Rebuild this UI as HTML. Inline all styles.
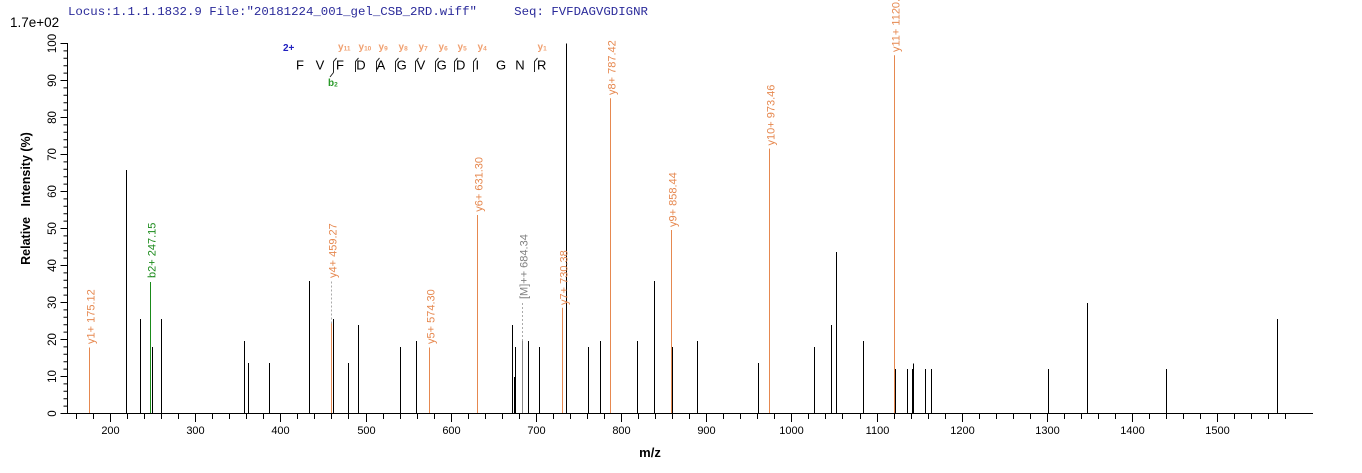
<!DOCTYPE html>
<html>
<head>
<meta charset="utf-8">
<style>
html,body{margin:0;padding:0;background:#fff;}
svg{display:block;}
text{font-family:"Liberation Sans",Arial,sans-serif;}
</style>
</head>
<body>
<svg width="1362" height="473" viewBox="0 0 1362 473" xmlns="http://www.w3.org/2000/svg">
<rect x="0" y="0" width="1362" height="473" fill="#fff"/>

<!-- header -->
<text x="68" y="15" font-size="12.4" fill="#2a2a9a" style="font-family:'Liberation Mono',monospace;white-space:pre" xml:space="preserve">Locus:1.1.1.1832.9 File:"20181224_001_gel_CSB_2RD.wiff"     Seq: FVFDAGVGDIGNR</text>
<text x="10" y="27" font-size="13.5" fill="#000">1.7e+02</text>

<!-- axes -->
<g stroke="#000" stroke-width="1" fill="none">
<line x1="67.5" y1="43" x2="67.5" y2="414"/>
<line x1="67" y1="413.5" x2="1313" y2="413.5"/>
<path d="M60.5 413.5H67.5M60.5 376.5H67.5M60.5 339.5H67.5M60.5 302.5H67.5M60.5 265.5H67.5M60.5 228.5H67.5M60.5 191.5H67.5M60.5 154.5H67.5M60.5 117.5H67.5M60.5 80.5H67.5M60.5 43.5H67.5"/>
<path d="M63.5 406.1H67.5M63.5 398.7H67.5M63.5 391.3H67.5M63.5 383.9H67.5
M63.5 369.1H67.5M63.5 361.7H67.5M63.5 354.3H67.5M63.5 346.9H67.5
M63.5 332.1H67.5M63.5 324.7H67.5M63.5 317.3H67.5M63.5 309.9H67.5
M63.5 295.1H67.5M63.5 287.7H67.5M63.5 280.3H67.5M63.5 272.9H67.5
M63.5 258.1H67.5M63.5 250.7H67.5M63.5 243.3H67.5M63.5 235.9H67.5
M63.5 221.1H67.5M63.5 213.7H67.5M63.5 206.3H67.5M63.5 198.9H67.5
M63.5 184.1H67.5M63.5 176.7H67.5M63.5 169.3H67.5M63.5 161.9H67.5
M63.5 147.1H67.5M63.5 139.7H67.5M63.5 132.3H67.5M63.5 124.9H67.5
M63.5 110.1H67.5M63.5 102.7H67.5M63.5 95.3H67.5M63.5 87.9H67.5
M63.5 73.1H67.5M63.5 65.7H67.5M63.5 58.3H67.5M63.5 50.9H67.5"/>
<path d="M76.5 413V419M93.5 413V419M127.5 413V419M144.5 413V419M161.5 413V419M178.5 413V419M212.5 413V419M229.5 413V419M246.5 413V419M263.5 413V419M297.5 413V419M314.5 413V419M331.5 413V419M348.5 413V419M383.5 413V419M400.5 413V419M417.5 413V419M434.5 413V419M468.5 413V419M485.5 413V419M502.5 413V419M519.5 413V419M553.5 413V419M570.5 413V419M587.5 413V419M604.5 413V419M638.5 413V419M655.5 413V419M672.5 413V419M689.5 413V419M723.5 413V419M740.5 413V419M757.5 413V419M774.5 413V419M808.5 413V419M825.5 413V419M842.5 413V419M860.5 413V419M894.5 413V419M911.5 413V419M928.5 413V419M945.5 413V419M979.5 413V419M996.5 413V419M1013.5 413V419M1030.5 413V419M1064.5 413V419M1081.5 413V419M1098.5 413V419M1115.5 413V419M1149.5 413V419M1166.5 413V419M1183.5 413V419M1200.5 413V419M1234.5 413V419M1251.5 413V419M1268.5 413V419M1285.5 413V419"/>
<path d="M110.5 413V422M195.5 413V422M280.5 413V422M366.5 413V422M451.5 413V422M536.5 413V422M621.5 413V422M706.5 413V422M791.5 413V422M877.5 413V422M962.5 413V422M1047.5 413V422M1132.5 413V422M1217.5 413V422"/>
</g>

<!-- y labels -->
<g font-size="11.5" fill="#000" text-anchor="middle">
<text transform="translate(56,413.5) rotate(-90)">0</text>
<text transform="translate(56,376.5) rotate(-90)">10</text>
<text transform="translate(56,339.5) rotate(-90)">20</text>
<text transform="translate(56,302.5) rotate(-90)">30</text>
<text transform="translate(56,265.5) rotate(-90)">40</text>
<text transform="translate(56,228.5) rotate(-90)">50</text>
<text transform="translate(56,191.5) rotate(-90)">60</text>
<text transform="translate(56,154.5) rotate(-90)">70</text>
<text transform="translate(56,117.5) rotate(-90)">80</text>
<text transform="translate(56,80.5) rotate(-90)">90</text>
<text transform="translate(56,43.5) rotate(-90)">100</text>
</g>

<!-- x labels -->
<g font-size="11" fill="#000" text-anchor="middle">
<text x="110.5" y="434">200</text>
<text x="195.5" y="434">300</text>
<text x="280.5" y="434">400</text>
<text x="366.5" y="434">500</text>
<text x="451.5" y="434">600</text>
<text x="536.5" y="434">700</text>
<text x="621.5" y="434">800</text>
<text x="706.5" y="434">900</text>
<text x="791.5" y="434">1000</text>
<text x="877.5" y="434">1100</text>
<text x="962.5" y="434">1200</text>
<text x="1047.5" y="434">1300</text>
<text x="1132.5" y="434">1400</text>
<text x="1217.5" y="434">1500</text>
</g>

<!-- axis titles -->
<text x="650" y="457" font-size="13" font-weight="bold" text-anchor="middle" fill="#000">m/z</text>
<text transform="translate(30,198.5) rotate(-90)" font-size="12.5" font-weight="bold" text-anchor="middle" fill="#000" xml:space="preserve" style="white-space:pre">Relative   Intensity (%)</text>

<!-- black peaks -->
<path stroke="#000" stroke-width="1" fill="none" d="
M126.5 413V170
M140.5 413V319
M152.5 413V347
M161.5 413V319
M244.5 413V341
M248.5 413V363
M269.5 413V363
M309.5 413V281
M333.5 413V319
M348.5 413V363
M358.5 413V325
M400.5 413V347
M416.5 413V341
M512.5 413V325
M514.5 413V377
M515.5 413V347
M528.5 413V341
M539.5 413V347
M566.5 413V43.5
M588.5 413V347
M600.5 413V341
M637.5 413V341
M654.5 413V281
M672.5 413V347
M697.5 413V341
M758.5 413V363
M814.5 413V347
M831.5 413V325
M836.5 413V252
M863.5 413V341
M895.5 413V369
M907.5 413V369
M912.5 413V369
M913.5 413V363.5
M925.5 413V369
M931.5 413V369
M1048.5 413V369
M1087.5 413V303
M1166.5 413V369
M1277.5 413V319"/>

<!-- y ion peaks -->
<path stroke="#e6884f" stroke-width="1" fill="none" d="
M89.5 413V347.5
M331.5 413V323.5
M429.5 413V347.5
M477.5 413V215
M562.5 413V307.7
M610.5 413V98.3
M671.5 413V230
M769.5 413V148.6
M894.5 413V55.3"/>
<path stroke="#1a8a1a" stroke-width="1" fill="none" d="M150.5 413V282"/>
<path stroke="#888" stroke-width="1" fill="none" d="M522.5 413V341"/>
<path stroke="#aaa" stroke-width="1" fill="none" stroke-dasharray="2,2" d="M331.5 323.5V281M522.5 341V301.7"/>

<!-- peak labels -->
<g font-size="11" fill="#e6884f">
<text transform="translate(94.5,344) rotate(-90)">y1+ 175.12</text>
<text transform="translate(336.5,278) rotate(-90)">y4+ 459.27</text>
<text transform="translate(434.5,344) rotate(-90)">y5+ 574.30</text>
<text transform="translate(482.5,211.7) rotate(-90)">y6+ 631.30</text>
<text transform="translate(567.5,305) rotate(-90)">y7+ 730.38</text>
<text transform="translate(615.5,95) rotate(-90)">y8+ 787.42</text>
<text transform="translate(676.5,227) rotate(-90)">y9+ 858.44</text>
<text transform="translate(774.5,145.5) rotate(-90)">y10+ 973.46</text>
<text transform="translate(899.5,52) rotate(-90)">y11+ 1120.51</text>
</g>
<text transform="translate(155.5,278) rotate(-90)" font-size="11" fill="#1a8a1a">b2+ 247.15</text>
<text transform="translate(527.5,299) rotate(-90)" font-size="11" fill="#808080">[M]++ 684.34</text>

<!-- sequence annotation -->
<text x="283" y="51" font-size="10" font-weight="bold" fill="#2020c0">2+</text>
<g font-size="13" fill="#000" text-anchor="middle">
<text x="300" y="69.5">F</text>
<text x="320" y="69.5">V</text>
<text x="340" y="69.5">F</text>
<text x="361" y="69.5">D</text>
<text x="381" y="69.5">A</text>
<text x="401.7" y="69.5">G</text>
<text x="421" y="69.5">V</text>
<text x="441.7" y="69.5">G</text>
<text x="460.7" y="69.5">D</text>
<text x="477.3" y="69.5">I</text>
<text x="501" y="69.5">G</text>
<text x="520" y="69.5">N</text>
<text x="541.7" y="69.5">R</text>
</g>
<path stroke="#222" stroke-width="1" fill="none" d="
M333.5 72.5V61.5L336.5 58M333.5 72.5L330 77
M355.5 72V61.5L358.5 58
M376.5 72V61.5L379.5 58
M395.5 72V61.5L398.5 58
M415.5 72V61.5L418.5 58
M435.5 72V61.5L438.5 58
M454.5 72V61.5L457.5 58
M473.5 72V61.5L476.5 58
M534.5 72V61.5L537.5 58"/>
<g font-size="10" font-weight="bold" fill="#f0a070">
<text x="338" y="50">y<tspan font-size="6.5" dy="0.5">11</tspan></text>
<text x="358.5" y="50">y<tspan font-size="6.5" dy="0.5">10</tspan></text>
<text x="378.5" y="50">y<tspan font-size="6.5" dy="0.5">9</tspan></text>
<text x="398.5" y="50">y<tspan font-size="6.5" dy="0.5">8</tspan></text>
<text x="418.5" y="50">y<tspan font-size="6.5" dy="0.5">7</tspan></text>
<text x="438.5" y="50">y<tspan font-size="6.5" dy="0.5">6</tspan></text>
<text x="457.5" y="50">y<tspan font-size="6.5" dy="0.5">5</tspan></text>
<text x="477.5" y="50">y<tspan font-size="6.5" dy="0.5">4</tspan></text>
<text x="537.5" y="50">y<tspan font-size="6.5" dy="0.5">1</tspan></text>
</g>
<text x="328" y="86" font-size="10" font-weight="bold" fill="#2a9a2a">b<tspan font-size="6.5" dy="0.5">2</tspan></text>
</svg>
</body>
</html>
